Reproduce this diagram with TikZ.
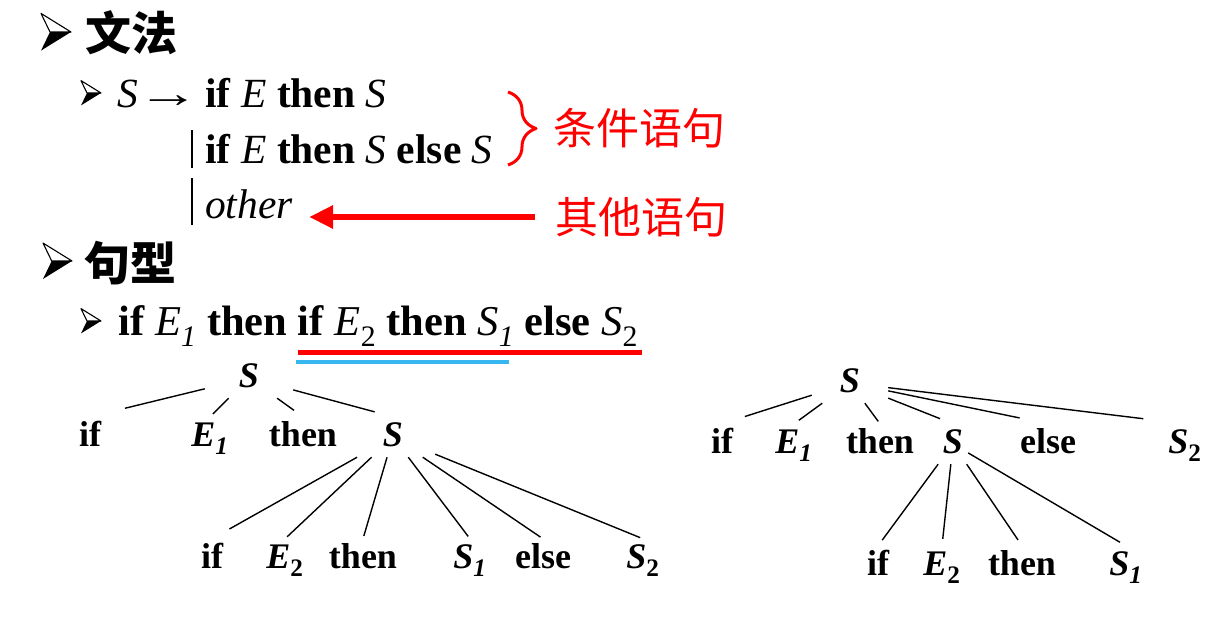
\documentclass[tikz,border=0pt]{standalone}
\usepackage{graphicx}
\usepackage{fontspec}
\setmainfont{Liberation Serif}
\newfontfamily\cjkfont{Noto Sans CJK SC}
\usetikzlibrary{arrows.meta,decorations.pathreplacing,positioning}
\definecolor{ink}{RGB}{0,0,0}
\definecolor{notered}{RGB}{255,0,0}
\definecolor{subblue}{RGB}{56,182,240}
\newcommand\gramfont{\fontsize{41.5}{48}\selectfont}
\newcommand\treefont{\bfseries\fontsize{36}{40}\selectfont}
\newcommand\kw[1]{\textbf{#1}}
\newcommand\nt[1]{\textit{#1}}
\newcommand\yields{\scalebox{1.5}[1]{→}}

\begin{document}
\begin{tikzpicture}[x=1pt,y=-1pt,line join=round,
  head/.style={font=\cjkfont\bfseries\fontsize{46}{50}\selectfont,text=ink,inner sep=0pt},
  gram/.style={font=\gramfont,text=ink,inner sep=0pt},
  note/.style={font=\cjkfont\fontsize{43}{48}\selectfont,text=notered,inner sep=0pt},
  leaf/.style={font=\treefont,text=ink,inner sep=0pt,minimum height=40pt,text height=26pt,text depth=8pt},
  fork/.style={leaf,minimum width=#1},
  branch/.style={draw=ink,line width=1.4pt},
  bar/.style={draw=ink,line width=1.6pt},
  pointer/.style={draw=notered,line width=6pt,-{Triangle[length=24pt,width=22pt]}},
  bullet/.pic={
    \filldraw[fill=white,draw=ink,line width=1.1pt] (0,-0.62) -- (1,0) -- (0.3,0) -- cycle;
    \fill[ink] (0.3,0) -- (1,0) -- (0,0.62) -- cycle;
  }]
\useasboundingbox (0,0) rectangle (1221,616);

% grammar
\pic[scale=30] at (41,32) {bullet};
\node[head,anchor=west] (h1) at (85,33) {文法};
\pic[scale=20] at (81,93) {bullet};
\node[gram,anchor=base west] (g0) at (117,107) {\nt{S}\yields};
\node[gram,anchor=base west] (p1) at (205,107) {\kw{if} \nt{E} \kw{then} \nt{S}};
\node[gram,anchor=base west] (p2) at (205,163) {\kw{if} \nt{E} \kw{then} \nt{S} \kw{else} \nt{S}};
\node[gram,anchor=base west] (p3) at (205,218) {\nt{other}};
\draw[bar] (192,130) -- (192,168);
\draw[bar] (192,178) -- (192,225);
\draw[notered,line width=3pt,decorate,decoration={brace,amplitude=28pt}] (508,92) -- (508,165);
\node[note,anchor=west] (n1) at (553,128) {条件语句};
\node[note,anchor=west] (n2) at (555,217) {其他语句};
\draw[pointer,shorten <=20pt,shorten >=16pt] (n2.west) -- (n2.west -| p3.east);

% sentence
\pic[scale=29] at (43,261) {bullet};
\node[head,anchor=west] (h2) at (84,263) {句型};
\pic[scale=20] at (81,321) {bullet};
\node[gram,anchor=base west,font=\fontsize{42.5}{48}\selectfont] (s1) at (118,335) {\kw{if} \nt{E}\textsubscript{\nt{1}} \kw{then}};
\node[gram,base right=10pt of s1,font=\fontsize{42.5}{48}\selectfont] (s2) {\kw{if} \nt{E}\textsubscript{2} \kw{then} \nt{S}\textsubscript{\nt{1}}};
\node[gram,base right=10pt of s2,font=\fontsize{42.5}{48}\selectfont] (s3) {\kw{else} \nt{S}\textsubscript{2}};
\draw[notered,line width=5pt] ([yshift=-17pt]s2.base west) -- ([xshift=4pt,yshift=-17pt]s3.base east);
\draw[subblue,line width=4.5pt] ([xshift=-2pt,yshift=-27pt]s2.base west) -- ([xshift=-6pt,yshift=-27pt]s2.base east);

% tree 1
\node[fork=88pt] (r1) at (249,378) {\nt{S}};
\node[leaf] (a1) at (90,437) {if};
\node[leaf] (a2) at (210,437) {\nt{E}\textsubscript{\nt{1}}};
\node[leaf] (a3) at (303,437) {then};
\node[fork=84pt] (a4) at (393,437) {\nt{S}};
\node[leaf] (b1) at (212,559) {if};
\node[leaf] (b2) at (285,559) {\nt{E}\textsubscript{2}};
\node[leaf] (b3) at (363,559) {then};
\node[leaf] (b4) at (470,559) {\nt{S}\textsubscript{\nt{1}}};
\node[leaf] (b5) at (543,559) {else};
\node[leaf] (b6) at (643,559) {\nt{S}\textsubscript{2}};
\draw[branch,shorten >=36pt] (r1) -- (a1.north);
\draw[branch,shorten >=4pt] (r1) -- (a2.north);
\draw[branch,shorten >=11pt] (r1) -- (a3.north);
\draw[branch,shorten >=19pt] (r1) -- (a4.north);
\draw[branch,shorten >=20pt] (a4) -- (b1.north);
\foreach \k in {b2,b3,b4,b5,b6}
  \draw[branch,shorten >=3pt] (a4) -- (\k.north);

% tree 2
\node[fork=76pt] (r2) at (850,383) {\nt{S}};
\node[leaf] (c1) at (722,444) {if};
\node[leaf] (c2) at (794,444) {\nt{E}\textsubscript{\nt{1}}};
\node[leaf] (c3) at (880,444) {then};
\node[fork=30pt] (c4) at (953,444) {\nt{S}};
\node[leaf] (c5) at (1048,444) {else};
\node[leaf] (c6) at (1185,444) {\nt{S}\textsubscript{2}};
\node[leaf] (d1) at (878,566) {if};
\node[leaf] (d2) at (942,566) {\nt{E}\textsubscript{2}};
\node[leaf] (d3) at (1022,566) {then};
\node[leaf] (d4) at (1126,566) {\nt{S}\textsubscript{\nt{1}}};
\draw[branch,shorten >=24pt] (r2) -- (c1.north);
\draw[branch,shorten >=6pt] (r2) -- (c2.north);
\draw[branch,shorten >=3pt] (r2) -- (c3.north);
\draw[branch,shorten >=14pt] (r2) -- (c4.north);
\draw[branch,shorten >=29pt] (r2) -- (c5.north);
\draw[branch,shorten >=42pt] (r2) -- (c6.north);
\foreach \k in {d1,d2,d3,d4}
  \draw[branch,shorten >=7pt] (c4) -- (\k.north);
\end{tikzpicture}
\end{document}
